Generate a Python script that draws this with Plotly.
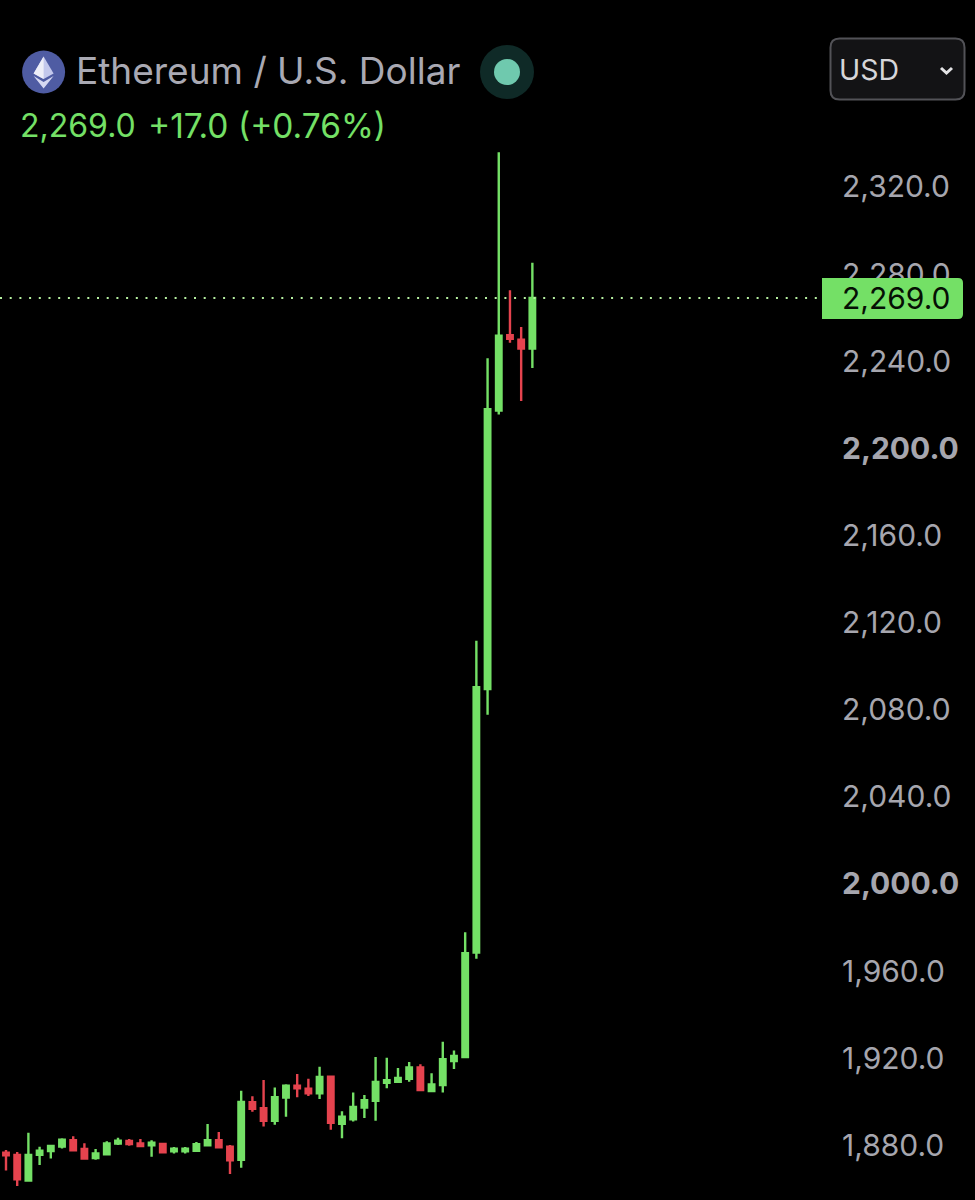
import plotly.graph_objects as go

# ---- data (price per candle, left to right) ----
opens = [1876.6, 1875.6, 1863.8, 1875.7, 1877.4, 1879.4, 1882.3, 1878.3, 1874.2, 1875.9, 1880.8, 1882.0,
         1880.9, 1880.0, 1880.6, 1877.3, 1877.3, 1877.5, 1880.0, 1882.3, 1879.4, 1873.3, 1899.8, 1897.1,
         1891.3, 1901.9, 1907.4, 1906.0, 1903.9, 1911.5, 1889.9, 1892.0, 1897.3, 1900.4, 1908.7, 1909.2,
         1910.5, 1915.8, 1904.9, 1907.7, 1918.7, 1920.5, 1968.5, 2089.5, 2217.3, 2251.9, 2249.9, 2245.8]
highs = [1877.9, 1876.9, 1885.8, 1879.4, 1880.0, 1883.2, 1884.2, 1880.9, 1878.3, 1881.9, 1883.5, 1882.9,
         1882.9, 1882.3, 1881.2, 1879.2, 1879.2, 1881.5, 1889.8, 1886.1, 1880.2, 1905.1, 1902.5, 1910.0,
         1906.5, 1908.0, 1912.7, 1910.6, 1916.1, 1912.0, 1895.6, 1904.2, 1903.1, 1920.6, 1920.2, 1915.5,
         1918.3, 1917.2, 1913.1, 1927.6, 1923.5, 1977.8, 2111.6, 2241.3, 2335.9, 2272.6, 2255.7, 2285.2]
lows = [1868.4, 1861.3, 1863.6, 1871.0, 1873.9, 1878.6, 1877.7, 1873.9, 1873.4, 1875.4, 1880.2, 1879.8,
        1879.4, 1874.7, 1876.3, 1876.3, 1876.3, 1876.9, 1879.6, 1878.9, 1866.8, 1869.7, 1895.4, 1888.7,
        1889.5, 1893.1, 1902.1, 1902.7, 1901.3, 1887.2, 1883.2, 1890.9, 1892.6, 1891.3, 1906.2, 1909.1,
        1909.2, 1905.4, 1904.7, 1904.3, 1915.0, 1920.0, 1965.6, 2077.7, 2215.5, 2248.5, 2221.7, 2236.9]
closes = [1875.4, 1864.4, 1875.6, 1877.5, 1879.7, 1882.6, 1877.7, 1873.9, 1876.3, 1880.9, 1882.1, 1880.6,
          1879.7, 1881.2, 1876.8, 1878.5, 1878.5, 1880.5, 1882.3, 1879.1, 1873.1, 1899.9, 1896.8, 1891.3,
          1902.1, 1907.4, 1906.2, 1903.9, 1911.4, 1890.3, 1893.1, 1897.6, 1900.7, 1909.1, 1909.9, 1910.9,
          1915.8, 1905.4, 1908.0, 1919.5, 1921.0, 1968.2, 2090.3, 2217.9, 2251.7, 2250.3, 2245.8, 2269.0]
tick_values = [1880, 1920, 1960, 2000, 2040, 2080, 2120, 2160, 2200, 2240, 2280, 2320]
tick_labels = ["1,880.0", "1,920.0", "1,960.0", "<b>2,000.0</b>", "2,040.0", "2,080.0", "2,120.0",
               "2,160.0", "<b>2,200.0</b>", "2,240.0", "2,280.0", "2,320.0"]
last_price = 2269.0
title_text = "Ethereum / U.S. Dollar"
price_text = "2,269.0"
change_text = "+17.0 (+0.76%)"

# ---- style ----
GREEN = "#74E066"
RED = "#E5434E"
FONT = "Inter, 'Liberation Sans', sans-serif"
W, H, PLOT_W = 975, 1200, 838


def fx(x):
    return x / PLOT_W


def fy(y):
    return 1 - y / H


fig = go.Figure(go.Candlestick(
    x=list(range(len(opens))), open=opens, high=highs, low=lows, close=closes,
    increasing=dict(line=dict(color=GREEN, width=2.4), fillcolor=GREEN),
    decreasing=dict(line=dict(color=RED, width=2.4), fillcolor=RED),
    whiskerwidth=0, hoverinfo="skip",
))


def rrect(x0, y0, x1, y1, r, **kw):
    path = (f"M{fx(x0 + r)},{fy(y0)} L{fx(x1 - r)},{fy(y0)} Q{fx(x1)},{fy(y0)} {fx(x1)},{fy(y0 + r)} "
            f"L{fx(x1)},{fy(y1 - r)} Q{fx(x1)},{fy(y1)} {fx(x1 - r)},{fy(y1)} "
            f"L{fx(x0 + r)},{fy(y1)} Q{fx(x0)},{fy(y1)} {fx(x0)},{fy(y1 - r)} "
            f"L{fx(x0)},{fy(y0 + r)} Q{fx(x0)},{fy(y0)} {fx(x0 + r)},{fy(y0)} Z")
    return dict(type="path", xref="paper", yref="paper", path=path, layer="above", **kw)


def circle(cx, cy, r, color):
    return dict(type="circle", xref="paper", yref="paper", x0=fx(cx - r), x1=fx(cx + r),
                y0=fy(cy + r), y1=fy(cy - r), fillcolor=color, line=dict(width=0), layer="above")


def poly(points, color=None, line=None):
    p = "M" + " L".join(f"{fx(x)},{fy(y)}" for x, y in points)
    if color:
        p += " Z"
    return dict(type="path", xref="paper", yref="paper", path=p, layer="above",
                fillcolor=color if color else "rgba(0,0,0,0)",
                line=line if line else dict(width=0))


shapes = [
    # last price dotted line
    dict(type="line", xref="paper", yref="y", x0=0, x1=fx(822), y0=last_price, y1=last_price,
         line=dict(color="#B5EFA0", width=2, dash="2px,7.7px"), layer="above"),
    # last price tag
    dict(type="path", xref="paper", yref="paper", layer="above", fillcolor=GREEN, line=dict(width=0),
         path=(f"M{fx(822)},{fy(278)} L{fx(958)},{fy(278)} Q{fx(963)},{fy(278)} {fx(963)},{fy(283)} "
               f"L{fx(963)},{fy(314)} Q{fx(963)},{fy(319)} {fx(958)},{fy(319)} L{fx(822)},{fy(319)} Z")),
    # currency button
    rrect(830.5, 38.5, 964.5, 99.5, 9, fillcolor="#131315", line=dict(color="#525257", width=2)),
    poly([(941, 68), (946.5, 73), (952, 68)], line=dict(color="#E4E4E6", width=3)),
    # ethereum logo
    circle(43.6, 72, 21.5, "#4F5CA3"),
    poly([(43.6, 56.5), (33.6, 73.5), (43.6, 79), (53.6, 73.5)], color="#C3C8EC"),
    poly([(43.6, 56.5), (33.6, 73.5), (43.6, 79)], color="#EDEEF8"),
    poly([(33.6, 76), (43.6, 82), (53.6, 76), (43.6, 88.5)], color="#D5D8F2"),
    # live status dot
    circle(507, 72, 27, "#0F2A27"),
    circle(507, 72, 13, "#6FC9AE"),
]


def note(x, y, text, size, color, anchor="left"):
    return dict(xref="paper", yref="paper", x=fx(x), y=fy(y), text=text, showarrow=False,
                xanchor=anchor, yanchor="middle", xshift=0, align="left",
                font=dict(family=FONT, size=size, color=color))


annotations = [
    note(74, 70, title_text, 37, "#A9A9B3"),
    note(18, 126, price_text, 32, GREEN),
    note(146, 126, change_text, 33.5, GREEN),
    note(837, 69, "USD", 28.5, "#D6D6D9"),
    note(840, 298, f"{last_price:,.1f}", 30, "#061004"),
]

fig.update_layout(
    width=W, height=H, margin=dict(l=0, r=W - PLOT_W, t=0, b=0),
    paper_bgcolor="#000000", plot_bgcolor="#000000", showlegend=False,
    boxgap=0.3, shapes=shapes, annotations=annotations,
    xaxis=dict(visible=False, range=[-0.536, 74.29], rangeslider=dict(visible=False), fixedrange=True),
    yaxis=dict(side="right", range=[1854.9, 2405.8], tickmode="array", tickvals=tick_values,
               ticktext=tick_labels, showgrid=False, zeroline=False, showline=False, ticks="",
               ticklabelstandoff=3, tickfont=dict(family=FONT, size=30, color="#A6A6AE"), fixedrange=True),
)

fig.write_html("out.html", config=dict(displayModeBar=False),
               post_script="document.body.style.margin='0';")
